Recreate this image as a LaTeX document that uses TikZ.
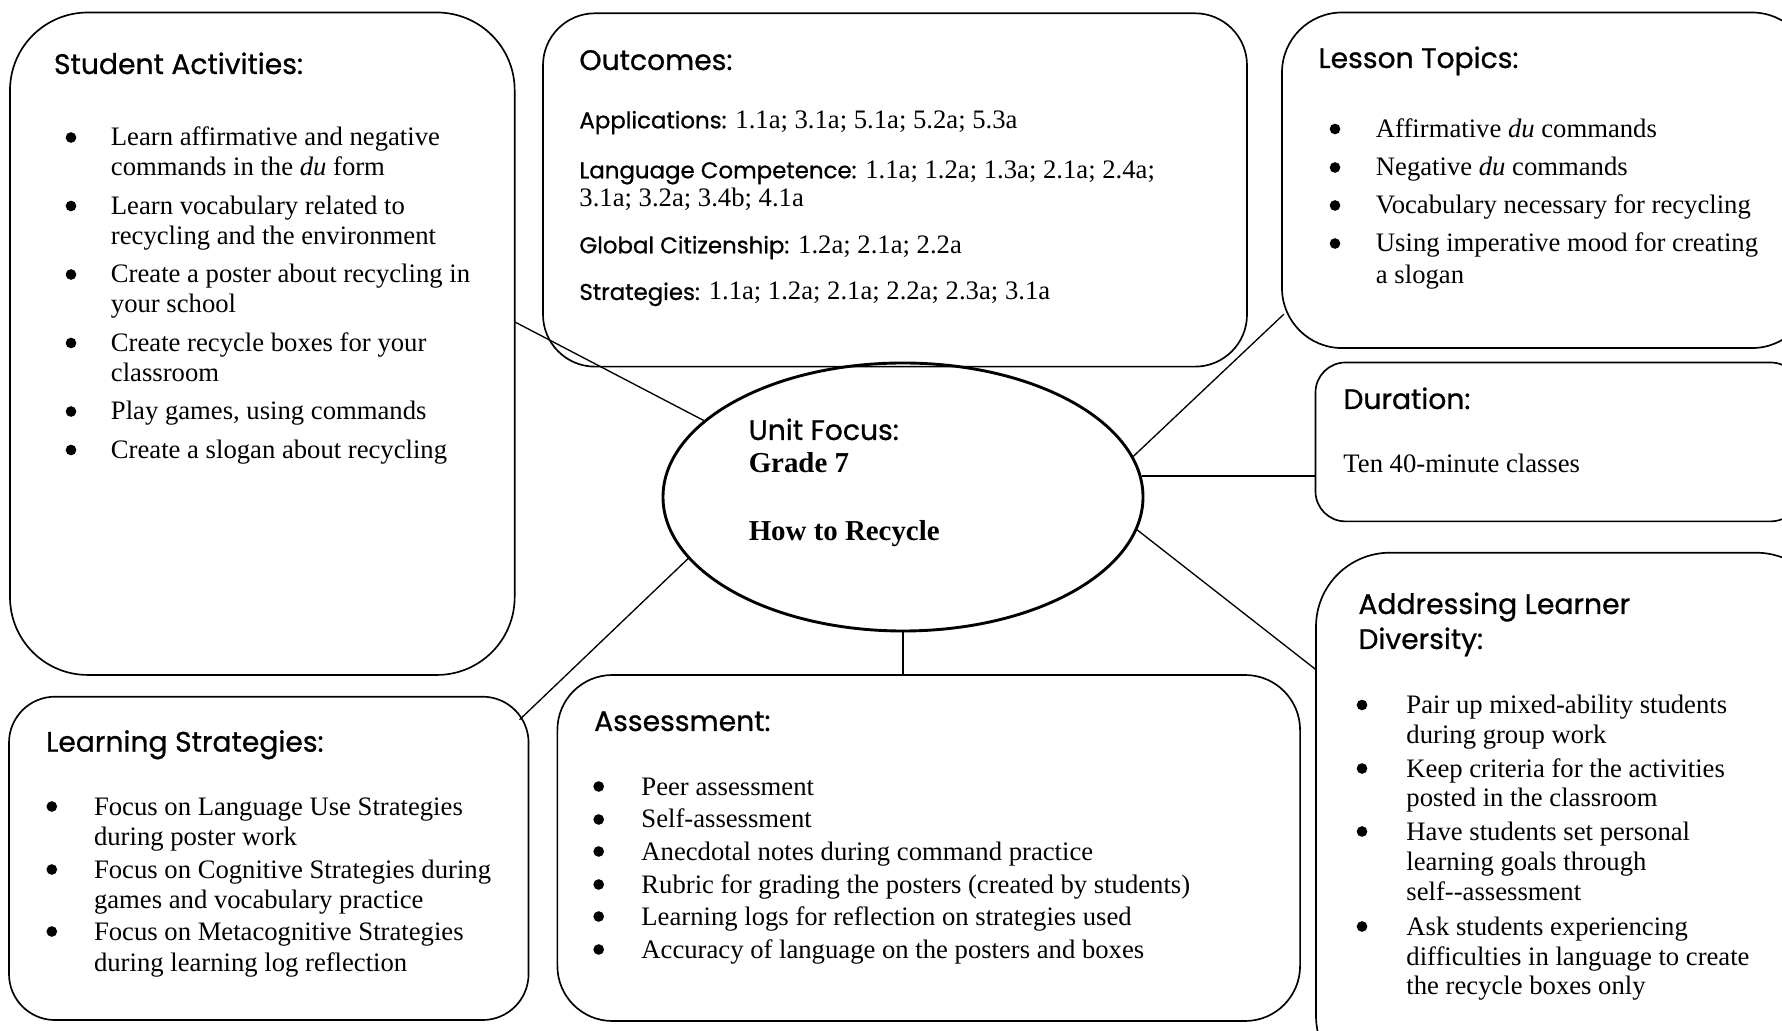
\documentclass[tikz,border=0pt]{standalone}
\usepackage{fontspec}
\setmainfont{Liberation Serif}
\newfontfamily\hdfont[FakeBold=0.8]{Poppins}
\usetikzlibrary{shapes.geometric,calc}
\newcommand\hdsize{\hdfont\fontsize{12.7}{15}\selectfont}
\newcommand\lblfont{\hdfont\fontsize{10.3}{13}\selectfont}
\tikzset{
  box/.style={draw, line width=0.75pt, inner sep=0pt, outer sep=0pt, anchor=north west},
  conn/.style={draw, line width=0.6pt},
  hd/.style={anchor=base west, inner sep=0pt, font=\hdsize},
  tx/.style={anchor=base west, inner sep=0pt, font=\fontsize{12}{13.6}\selectfont},
  bul/.style={circle, fill=black, inner sep=0pt, minimum size=4.8pt},
  ctr/.style={anchor=base west, inner sep=0pt, font=\bfseries\fontsize{13}{15}\selectfont},
}
\begin{document}
\begin{tikzpicture}[x=0.45pt,y=-0.45pt]
\useasboundingbox (0,0) rectangle (1782,1031);
\clip (0,0) rectangle (1782,1031);

% boxes
\node[box, minimum width=227.1pt, minimum height=298.1pt, rounded corners=35pt] (sa) at (10,12.5) {};
\node[box, minimum width=316.8pt, minimum height=159pt, rounded corners=23.4pt] (oc) at (543,13.3) {};
\node[box, minimum width=238.5pt, minimum height=151pt, rounded corners=27pt] (lt) at (1282,12.5) {};
\node[box, minimum width=218.3pt, minimum height=71.5pt, rounded corners=13.5pt] (du) at (1315.5,362.5) {};
\node[box, minimum width=231.3pt, minimum height=241.7pt, rounded corners=33.3pt] (ald) at (1316,552.7) {};
\node[box, minimum width=233.8pt, minimum height=145.5pt, rounded corners=20.7pt] (ls) at (9,696.7) {};
\node[box, minimum width=334.2pt, minimum height=155.7pt, rounded corners=24.75pt] (asm) at (557.4,675) {};

% central ellipse
\node[ellipse, draw, line width=1.3pt, minimum width=216pt, minimum height=120.6pt, inner sep=0pt] (ell) at (903,497) {};
\node[hd] (uf) at (748.3,440) {Unit Focus:};
\node[ctr] (gr) at (748.3,472.7) {Grade 7};
\node[ctr] (hr) at (748.3,540.7) {How to Recycle};

% connectors
\draw[conn] ($(sa.north east)!0.467!(sa.south east)$) -- (ell.159.3);
\draw[conn] (ell.10) -- ($(lt.south west)+(2,-34)$);
\draw[conn] (ell.5.7) -- (ell.5.7 -| du.west);
\draw[conn] (ell.-8.4) -- ($(ald.north west)+(0,117)$);
\draw[conn] (ell.south) -- (ell.south |- asm.north);
\draw[conn] (ell.196.3) -- ($(ls.north east)+(-9,23)$);

% Student Activities
\node[hd] (sah) at (53.6,74) {Student Activities:};
\foreach \y [count=\i] in {146,214.5,283,351.5,420,458.5}
  \node[bul] (sab\i) at (71,\y-8.5) {};
\foreach \y/\t [count=\i] in {146/{Learn affirmative and negative},176/{commands in the \emph{du} form},
  214.5/{Learn vocabulary related to},244.5/{recycling and the environment},
  283/{Create a poster about recycling in},313/{your school},
  351.5/{Create recycle boxes for your},381.5/{classroom},
  420/{Play games, using commands},458.5/{Create a slogan about recycling}}
  \node[tx] (sat\i) at (110.5,\y) {\t};

% Outcomes
\node[hd] (och) at (579,70) {Outcomes:};
\node[tx] (oc1) at (579,128.3) {{\lblfont Applications:} 1.1a; 3.1a; 5.1a; 5.2a; 5.3a};
\node[tx] (oc2) at (579,178.3) {{\lblfont Language Competence:} 1.1a; 1.2a; 1.3a; 2.1a; 2.4a;};
\node[tx] (oc3) at (579,206.7) {3.1a; 3.2a; 3.4b; 4.1a};
\node[tx] (oc4) at (579,253.3) {{\lblfont Global Citizenship:} 1.2a; 2.1a; 2.2a};
\node[tx] (oc5) at (579,300) {{\lblfont Strategies:} 1.1a; 1.2a; 2.1a; 2.2a; 2.3a; 3.1a};

% Lesson Topics
\node[hd] (lth) at (1318,68) {Lesson Topics:};
\foreach \y [count=\i] in {137.5,176,214,252}
  \node[bul] (ltb\i) at (1335,\y-8.5) {};
\foreach \y/\t [count=\i] in {137.5/{Affirmative \emph{du} commands},176/{Negative \emph{du} commands},
  214/{Vocabulary necessary for recycling},252/{Using imperative mood for creating},284/{a slogan}}
  \node[tx] (ltt\i) at (1375.5,\y) {\t};

% Duration
\node[hd] (duh) at (1343,409) {Duration:};
\node[tx] (dut) at (1343,473) {Ten 40-minute classes};

% Addressing Learner Diversity
\node[hd] (aldh1) at (1358,614) {Addressing Learner};
\node[hd] (aldh2) at (1358,649) {Diversity:};
\foreach \y [count=\i] in {713.5,777,840,935}
  \node[bul] (aldb\i) at (1362,\y-8.5) {};
\foreach \y/\t [count=\i] in {713.5/{Pair up mixed-ability students},743.5/{during group work},
  777/{Keep criteria for the activities},807/{posted in the classroom},
  840/{Have students set personal},870/{learning goals through},900/{self-{}-assessment},
  935/{Ask students experiencing},965/{difficulties in language to create},994/{the recycle boxes only}}
  \node[tx] (aldt\i) at (1406,\y) {\t};

% Learning Strategies
\node[hd] (lsh) at (45.7,751.7) {Learning Strategies:};
\foreach \y [count=\i] in {815,878,940}
  \node[bul] (lsb\i) at (51.8,\y-8.5) {};
\foreach \y/\t [count=\i] in {815/{Focus on Language Use Strategies},845/{during poster work},
  878/{Focus on Cognitive Strategies during},908/{games and vocabulary practice},
  940/{Focus on Metacognitive Strategies},971.7/{during learning log reflection}}
  \node[tx] (lst\i) at (93.6,\y) {\t};

% Assessment
\node[hd] (asmh) at (593.7,731) {Assessment:};
\foreach \y [count=\i] in {795,828,860,893,925,958}
  \node[bul] (asmb\i) at (598.7,\y-8.5) {};
\foreach \y/\t [count=\i] in {795/{Peer assessment},828/{Self-assessment},
  860/{Anecdotal notes during command practice},893/{Rubric for grading the posters (created by students)},
  925/{Learning logs for reflection on strategies used},958/{Accuracy of language on the posters and boxes}}
  \node[tx] (asmt\i) at (641,\y) {\t};
\end{tikzpicture}
\end{document}
